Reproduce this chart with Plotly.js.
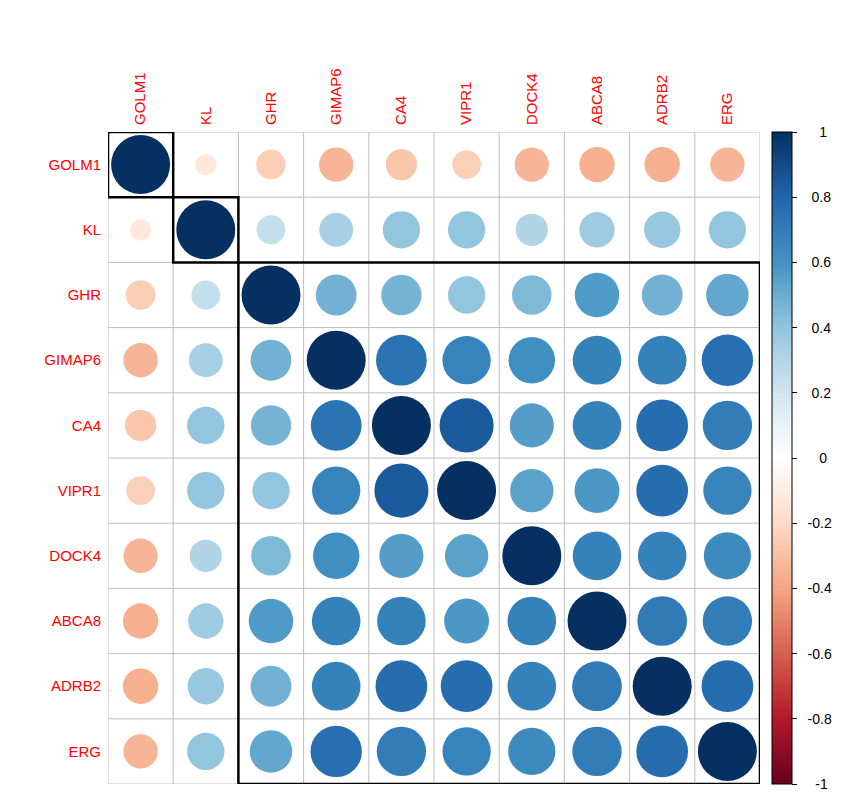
<!DOCTYPE html>
<html>
<head>
<meta charset="utf-8">
<script src="https://cdn.plot.ly/plotly-3.0.1.min.js"></script>
<style>html,body{margin:0;padding:0;background:#fff;}#chart{width:864px;height:807px;}</style>
</head>
<body>
<div id="chart"></div>
<script>
// Variable names (row/column order)
const genes = ["GOLM1","KL","GHR","GIMAP6","CA4","VIPR1","DOCK4","ABCA8","ADRB2","ERG"];
// Correlation rows
const rowGOLM1  = [1.00,-0.13,-0.25,-0.34,-0.28,-0.24,-0.34,-0.36,-0.36,-0.34];
const rowKL     = [-0.13,1.00,0.24,0.33,0.40,0.40,0.30,0.36,0.38,0.40];
const rowGHR    = [-0.25,0.24,1.00,0.48,0.47,0.40,0.45,0.57,0.48,0.52];
const rowGIMAP6 = [-0.34,0.33,0.48,1.00,0.74,0.67,0.62,0.68,0.68,0.76];
const rowCA4    = [-0.28,0.40,0.47,0.74,1.00,0.84,0.56,0.68,0.77,0.70];
const rowVIPR1  = [-0.24,0.40,0.40,0.67,0.84,1.00,0.54,0.58,0.77,0.67];
const rowDOCK4  = [-0.34,0.30,0.45,0.62,0.56,0.54,1.00,0.68,0.68,0.64];
const rowABCA8  = [-0.36,0.36,0.57,0.68,0.68,0.58,0.68,1.00,0.71,0.70];
const rowADRB2  = [-0.36,0.38,0.48,0.68,0.77,0.77,0.68,0.71,1.00,0.77];
const rowERG    = [-0.34,0.40,0.52,0.76,0.70,0.67,0.64,0.70,0.77,1.00];
// hclust rectangles: cluster sizes in order
const clusterSizes = [1,1,8];
// Colorbar tick labels
const cbTickVals = [1,0.8,0.6,0.4,0.2,0,-0.2,-0.4,-0.6,-0.8,-1];
const cbTickText = ["1","0.8","0.6","0.4","0.2","0","-0.2","-0.4","-0.6","-0.8","-1"];

const rows = [rowGOLM1,rowKL,rowGHR,rowGIMAP6,rowCA4,rowVIPR1,rowDOCK4,rowABCA8,rowADRB2,rowERG];
const n = genes.length;
const maxDiam = 59;

const xs=[], ys=[], cs=[], ss=[];
rows.forEach((row,i)=>{
  row.forEach((v,j)=>{
    xs.push(j+1); ys.push(i+1); cs.push(v); ss.push(maxDiam*Math.sqrt(Math.abs(v)));
  });
});

const rdbu = ["#67001F","#B2182B","#D6604D","#F4A582","#FDDBC7","#FFFFFF","#D1E5F0","#92C5DE","#4393C3","#2166AC","#053061"];
const colorscale = rdbu.map((c,k)=>[k/(rdbu.length-1), c]);

// center the colorbar labels (as in the R legend) by padding with non-breaking spaces
const cbPadded = cbTickText.map(t=>{
  const pad = t.length===1 ? 5 : (t.length===2 ? 4 : (t.length===3 ? 3 : 2));
  return '\u00a0'.repeat(pad) + t;
});

const trace = {
  type:'scatter', mode:'markers', x:xs, y:ys, hoverinfo:'skip',
  marker:{
    size:ss, color:cs, cmin:-1, cmax:1, colorscale:colorscale, opacity:1,
    line:{width:0},
    colorbar:{
      x:1.018, xanchor:'left', xpad:0, y:0.5, yanchor:'middle', ypad:0,
      len:1, lenmode:'fraction', thickness:20, thicknessmode:'pixels',
      outlinewidth:1, outlinecolor:'#000',
      ticks:'outside', ticklen:5, tickcolor:'#000',
      tickmode:'array', tickvals:cbTickVals, ticktext:cbPadded,
      tickfont:{family:'Arial, Liberation Sans, sans-serif', size:14, color:'#000'}
    }
  }
};

const shapes=[];
const grey='#BEBEBE';
for(let k=0;k<=n;k++){
  shapes.push({type:'line', xref:'x', yref:'y', x0:k+0.5, x1:k+0.5, y0:0.5, y1:n+0.5, line:{color:grey,width:1}, layer:'below'});
  shapes.push({type:'line', xref:'x', yref:'y', y0:k+0.5, y1:k+0.5, x0:0.5, x1:n+0.5, line:{color:grey,width:1}, layer:'below'});
}
let start=0;
clusterSizes.forEach(sz=>{
  shapes.push({type:'rect', xref:'x', yref:'y', x0:start+0.5, x1:start+sz+0.5, y0:start+0.5, y1:start+sz+0.5, line:{color:'#000',width:2.5}, fillcolor:'rgba(0,0,0,0)', layer:'above'});
  start+=sz;
});

const tickFont={family:'Arial, Liberation Sans, sans-serif', size:15, color:'#FF0000'};
const idx = genes.map((g,i)=>i+1);
const layout = {
  width:864, height:807,
  margin:{l:108, r:104, t:132, b:23, pad:0},
  paper_bgcolor:'#fff', plot_bgcolor:'#fff',
  showlegend:false,
  xaxis:{range:[0.5,n+0.5], side:'top', tickmode:'array', tickvals:idx, ticktext:genes, tickangle:-90,
    showgrid:false, zeroline:false, showline:false, ticks:'', tickfont:tickFont, ticklabelstandoff:6, fixedrange:true},
  yaxis:{range:[n+0.5,0.5], tickmode:'array', tickvals:idx, ticktext:genes,
    showgrid:false, zeroline:false, showline:false, ticks:'', tickfont:tickFont, ticklabelstandoff:6, fixedrange:true},
  shapes:shapes
};
Plotly.newPlot('chart',[trace],layout,{displayModeBar:false, staticPlot:true});
</script>
</body>
</html>
